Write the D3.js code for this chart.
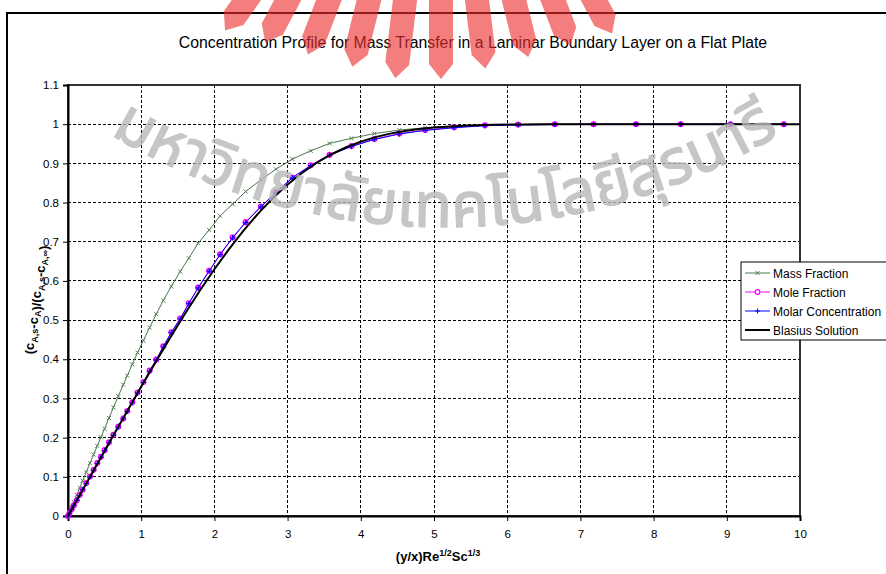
<!DOCTYPE html>
<html>
<head>
<meta charset="utf-8">
<script src="https://cdn.jsdelivr.net/npm/d3@7/dist/d3.min.js"></script>
<style>
  body { margin: 0; background: #fff; }
  svg { display: block; font-family: "Liberation Sans", Arial, sans-serif; }
</style>
</head>
<body>
<div id="chart"></div>
<script>
// x positions shared by the three measured series
const xs = [0, 0.02, 0.05, 0.08, 0.12, 0.16, 0.2, 0.25, 0.3, 0.35, 0.4, 0.45, 0.5, 0.56, 0.62, 0.687,
  0.755, 0.81, 0.878, 0.95, 1.03, 1.115, 1.205, 1.302, 1.411, 1.533, 1.65, 1.778, 1.928, 2.078,
  2.249, 2.426, 2.635, 2.84, 3.065, 3.315, 3.574, 3.873, 4.186, 4.527, 4.88, 5.275, 5.696, 6.15,
  6.65, 7.18, 7.76, 8.37, 9.05, 9.78]

const massFraction = [0, 0.009, 0.023, 0.036, 0.054, 0.072, 0.09, 0.112, 0.135, 0.157, 0.179, 0.201,
  0.223, 0.25, 0.277, 0.306, 0.335, 0.358, 0.387, 0.417, 0.448, 0.481, 0.515, 0.55, 0.586, 0.624,
  0.658, 0.696, 0.73, 0.766, 0.796, 0.828, 0.858, 0.885, 0.911, 0.932, 0.951, 0.964, 0.976, 0.985,
  0.991, 0.995, 0.998, 0.999, 1, 1, 1, 1, 1, 1]

const moleFraction = [0, 0.007, 0.017, 0.027, 0.04, 0.054, 0.067, 0.084, 0.101, 0.118, 0.135, 0.151,
  0.168, 0.188, 0.207, 0.228, 0.249, 0.268, 0.29, 0.315, 0.342, 0.371, 0.399, 0.433, 0.469, 0.504,
  0.543, 0.583, 0.626, 0.668, 0.711, 0.75, 0.79, 0.826, 0.864, 0.895, 0.922, 0.944, 0.962, 0.976,
  0.985, 0.992, 0.997, 0.999, 1, 1, 1, 1, 1, 1]

const molarConc = [0, 0.007, 0.017, 0.027, 0.04, 0.053, 0.067, 0.083, 0.1, 0.117, 0.134, 0.15,
  0.167, 0.187, 0.206, 0.227, 0.248, 0.267, 0.289, 0.314, 0.341, 0.37, 0.398, 0.432, 0.468, 0.503,
  0.542, 0.582, 0.625, 0.667, 0.71, 0.749, 0.789, 0.825, 0.863, 0.894, 0.921, 0.943, 0.961, 0.975,
  0.984, 0.991, 0.996, 0.998, 0.999, 1, 1, 1, 1, 1]

const blasiusX = [0, 0.2, 0.4, 0.6, 0.8, 1, 1.2, 1.4, 1.6, 1.8, 2, 2.2, 2.4, 2.6, 2.8, 3, 3.2, 3.4,
  3.6, 3.8, 4, 4.2, 4.4, 4.6, 4.8, 5, 5.4, 5.8, 6.2, 6.6, 7, 8, 10]
const blasiusY = [0, 0.0664, 0.1328, 0.1989, 0.2647, 0.3298, 0.3938, 0.4563, 0.5168, 0.5748, 0.6298,
  0.6813, 0.729, 0.7725, 0.8115, 0.8461, 0.8761, 0.9018, 0.9233, 0.9411, 0.9555, 0.967, 0.9759,
  0.9827, 0.9878, 0.9916, 0.9962, 0.9984, 0.9994, 0.9998, 0.9999, 1, 1]

const xTicks = [0, 1, 2, 3, 4, 5, 6, 7, 8, 9, 10]
const yTicks = [0, 0.1, 0.2, 0.3, 0.4, 0.5, 0.6, 0.7, 0.8, 0.9, 1, 1.1]
const yTickLabels = ['0', '0.1', '0.2', '0.3', '0.4', '0.5', '0.6', '0.7', '0.8', '0.9', '1', '1.1']

const width = 886
const height = 574

const svg = d3.select('#chart').append('svg').attr('width', width).attr('height', height)

// outer chart frame
svg.append('rect').attr('x', 7).attr('y', 13).attr('width', 900).attr('height', 600)
  .attr('fill', '#fff').attr('stroke', '#000').attr('stroke-width', 2)

const x = d3.scaleLinear().domain([0, 10]).range([68, 800])
const y = d3.scaleLinear().domain([0, 1.1]).range([516, 85])

// gridlines
const grid = svg.append('g').attr('stroke', '#000').attr('stroke-dasharray', '3,2')
  .attr('shape-rendering', 'crispEdges')
grid.selectAll('.gx').data(xTicks.slice(1, -1)).join('line')
  .attr('x1', d => x(d)).attr('x2', d => x(d)).attr('y1', y(1.1)).attr('y2', y(0))
grid.selectAll('.gy').data(yTicks.slice(1, -1)).join('line')
  .attr('y1', d => y(d)).attr('y2', d => y(d)).attr('x1', x(0)).attr('x2', x(10))

// plot border
svg.append('rect').attr('x', x(0)).attr('y', y(1.1)).attr('width', x(10) - x(0)).attr('height', y(0) - y(1.1))
  .attr('fill', 'none').attr('stroke', '#333').attr('stroke-width', 2)

// axes
const xAxis = svg.append('g').attr('transform', `translate(0,${y(0)})`)
  .call(d3.axisBottom(x).tickValues(xTicks).tickSize(5).tickPadding(9).tickFormat(d3.format('d')))
const yAxis = svg.append('g').attr('transform', `translate(${x(0)},0)`)
  .call(d3.axisLeft(y).tickValues(yTicks).tickSize(5).tickPadding(4).tickFormat((d, i) => yTickLabels[i]))
for (const ax of [xAxis, yAxis]) {
  ax.select('.domain').attr('stroke', '#000').attr('stroke-width', 2)
  ax.selectAll('.tick line').attr('stroke', '#000')
  ax.selectAll('text').attr('font-size', 11.5).attr('fill', '#000')
    .attr('font-family', '"Liberation Sans", Arial, sans-serif')
}

const line = d3.line().x(d => x(d[0])).y(d => y(d[1]))
const pts = vals => xs.map((v, i) => [v, vals[i]])

// mass fraction
svg.append('path').datum(pts(massFraction)).attr('d', line)
  .attr('fill', 'none').attr('stroke', '#4a7a4a').attr('stroke-width', 1)
svg.append('g').selectAll('path').data(pts(massFraction)).join('path')
  .attr('d', d => `M${x(d[0]) - 2},${y(d[1]) - 2}L${x(d[0]) + 2},${y(d[1]) + 2}M${x(d[0]) - 2},${y(d[1]) + 2}L${x(d[0]) + 2},${y(d[1]) - 2}`)
  .attr('stroke', '#5a7a5a').attr('stroke-width', 1)

// mole fraction
svg.append('path').datum(pts(moleFraction)).attr('d', line)
  .attr('fill', 'none').attr('stroke', '#ff00ff').attr('stroke-width', 1)
svg.append('g').selectAll('circle').data(pts(moleFraction)).join('circle')
  .attr('cx', d => x(d[0])).attr('cy', d => y(d[1])).attr('r', 2.3)
  .attr('fill', 'none').attr('stroke', '#ff00ff').attr('stroke-width', 1.5)

// molar concentration
svg.append('path').datum(pts(molarConc)).attr('d', line)
  .attr('fill', 'none').attr('stroke', '#0000ff').attr('stroke-width', 1)
svg.append('g').selectAll('path').data(pts(molarConc)).join('path')
  .attr('d', d => `M${x(d[0]) - 2.5},${y(d[1])}H${x(d[0]) + 2.5}M${x(d[0])},${y(d[1]) - 2.5}V${y(d[1]) + 2.5}`)
  .attr('stroke', '#0000ff').attr('stroke-width', 1.2)

// Blasius solution
svg.append('path').datum(blasiusX.map((v, i) => [v, blasiusY[i]])).attr('d', line)
  .attr('fill', 'none').attr('stroke', '#000').attr('stroke-width', 2)

// title
svg.append('text').attr('x', 473).attr('y', 48).attr('text-anchor', 'middle')
  .attr('font-size', 15.8).text('Concentration Profile for Mass Transfer in a Laminar Boundary Layer on a Flat Plate')

// x label
const xl = svg.append('text').attr('x', 438).attr('y', 561).attr('text-anchor', 'middle')
  .attr('font-size', 13).attr('font-weight', 'bold')
xl.append('tspan').text('(y/x)Re')
xl.append('tspan').attr('dy', -5).attr('font-size', 9).text('1/2')
xl.append('tspan').attr('dy', 5).text('Sc')
xl.append('tspan').attr('dy', -5).attr('font-size', 9).text('1/3')

// y label
const yl = svg.append('text').attr('transform', 'translate(34,300) rotate(-90)').attr('text-anchor', 'middle')
  .attr('font-size', 13).attr('font-weight', 'bold')
const yParts = [['(c', 'A,s'], ['-c', 'A'], [')/(c', 'A,s'], ['-c', 'A,\u221e'], [')', null]]
yParts.forEach(([main, sub]) => {
  yl.append('tspan').text(main)
  if (sub) {
    yl.append('tspan').attr('dy', 3.5).attr('font-size', 9).text(sub)
    yl.append('tspan').attr('dy', -3.5).text('')
  }
})

// legend
const legendItems = [
  { name: 'Mass Fraction', color: '#4a7a4a', mark: 'x' },
  { name: 'Mole Fraction', color: '#ff00ff', mark: 'o' },
  { name: 'Molar Concentration', color: '#0000ff', mark: '+' },
  { name: 'Blasius Solution', color: '#000', mark: null }
]
const lg = svg.append('g')
lg.append('rect').attr('x', 741).attr('y', 262).attr('width', 160).attr('height', 78)
  .attr('fill', '#fff').attr('stroke', '#000').attr('stroke-width', 1)
legendItems.forEach((d, i) => {
  const cy = 273 + i * 19
  lg.append('line').attr('x1', 745).attr('x2', 770).attr('y1', cy).attr('y2', cy)
    .attr('stroke', d.color).attr('stroke-width', d.mark ? 1 : 2)
  if (d.mark === 'x') lg.append('path').attr('d', `M755.5,${cy - 2}l4,4m-4,0l4,-4`).attr('stroke', '#5a7a5a')
  if (d.mark === 'o') lg.append('circle').attr('cx', 757.5).attr('cy', cy).attr('r', 2.3)
    .attr('fill', '#fff').attr('stroke', d.color).attr('stroke-width', 1.2)
  if (d.mark === '+') lg.append('path').attr('d', `M755,${cy}h5m-2.5,-2.5v5`).attr('stroke', d.color)
  lg.append('text').attr('x', 773).attr('y', cy + 4.5).attr('font-size', 12).text(d.name)
})

// watermark: logo + university name
const wm = svg.append('g').attr('pointer-events', 'none')
const logo = wm.append('g').attr('fill', '#ee3030').attr('opacity', 0.62)
const bars = [[-5, 252], [-4, 292], [-3, 332], [-2, 371], [-1, 406], [0, 441], [1, 476], [2, 512], [3, 550], [4, 590]]
bars.forEach(([k, bx]) => {
  const len = 92 - Math.abs(k + 0.5) * 10
  const ang = k * 7
  logo.append('path')
    .attr('d', `M${-12},0 L12,0 L12,${len - 15} L0,${len} L-12,${len - 15} Z`)
    .attr('transform', `translate(${bx},${-8}) rotate(${-ang})`)
})
wm.append('defs').append('path').attr('id', 'arc').attr('d', 'M60,100.7 A650,650 0 0,0 830,100.7')
wm.append('text').attr('font-size', 62).attr('fill', '#b8b8b8').attr('opacity', 0.8)
  .attr('stroke', '#b8b8b8').attr('stroke-width', 1.5)
  .attr('font-family', '"Noto Sans Thai", "Noto Sans", "DejaVu Sans", sans-serif')
  .append('textPath').attr('href', '#arc').attr('startOffset', '50%').attr('text-anchor', 'middle')
  .text('มหาวิทยาลัยเทคโนโลยีสุรนารี')
</script>
</body>
</html>
